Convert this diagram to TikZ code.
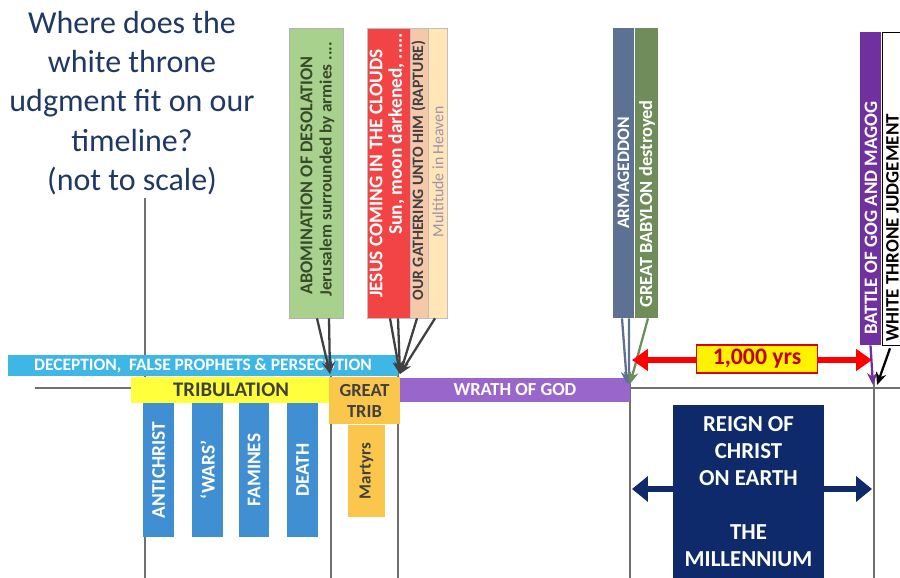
\documentclass[tikz,border=0pt]{standalone}
\usepackage{fontspec}
\setmainfont{Carlito}
\usetikzlibrary{arrows.meta,positioning,calc}
\definecolor{tlnavy}{RGB}{31,56,100}
\definecolor{tlgris}{RGB}{64,64,64}
\definecolor{tlline}{RGB}{112,112,112}
\definecolor{coldecep}{RGB}{62,182,230}
\definecolor{coltrib}{RGB}{255,255,60}
\definecolor{colgold}{RGB}{250,198,76}
\definecolor{colwrath}{RGB}{153,102,204}
\definecolor{colseal}{RGB}{63,143,210}
\definecolor{colabom}{RGB}{169,209,142}
\definecolor{colabomtxt}{RGB}{56,74,40}
\definecolor{coljesus}{RGB}{242,68,68}
\definecolor{colrapt}{RGB}{246,200,170}
\definecolor{colheav}{RGB}{255,230,180}
\definecolor{colheavtxt}{RGB}{160,142,180}
\definecolor{colarma}{RGB}{93,114,146}
\definecolor{colbaby}{RGB}{111,141,90}
\definecolor{colgog}{RGB}{112,48,160}
\definecolor{colreign}{RGB}{14,42,106}
\definecolor{colyrs}{RGB}{192,0,0}

\begin{document}
\begin{tikzpicture}[x=0.02cm, y=-0.02cm,
  bar/.style={rectangle, inner sep=0pt, text centered, font=\fontsize{10.5}{12}\selectfont\bfseries},
  box/.style={rectangle, inner sep=0pt},
  vt/.style={rotate=90, inner sep=0pt, font=\fontsize{11}{12}\selectfont\bfseries},
  axis/.style={tlline, line width=1.1pt},
  tr/.style={-{Stealth[length=7pt,width=6pt]}, line width=1.3pt, tlgris},
  fat/.style={line width=3pt, colreign, -{Triangle[length=9pt,width=14pt]}}
]
  \useasboundingbox (0,0) rectangle (900,578);
  \clip (0,0) rectangle (900,578);

  % question
  \node[text=tlnavy, align=center, font=\fontsize{18.2}{22.4}\selectfont] (quest) at (132,103)
    {Where does the\\white throne\\udgment fit on our\\timeline?\\(not to scale)};

  % timeline
  \draw[axis] (35,388) -- (900,388);
  \draw[axis] (145,198) -- (145,578);
  \draw[axis] (331,376) -- (331,578);
  \draw[axis] (398,370) -- (398,578);
  \draw[axis] (630,380) -- (630,578);
  \draw[axis] (874,380) -- (874,578);

  % periods
  \node[bar, fill=coldecep, text=white, minimum width=7.8cm, minimum height=0.42cm,
    font=\fontsize{9.9}{11}\selectfont\bfseries] (decep) at (203,365.5)
    {DECEPTION,~ FALSE PROPHETS \& PERSECUTION};
  \node[bar, fill=coltrib, text=tlgris, minimum width=4cm, minimum height=0.52cm,
    font=\fontsize{11.8}{13}\selectfont\bfseries] (trib) at (231,390) {TRIBULATION};
  \node[bar, fill=colgold, text=tlgris, minimum width=1.42cm, minimum height=0.94cm,
    align=center] (gtrib) at (364.5,400.5) {GREAT\\TRIB};
  \node[bar, fill=colwrath, text=white, minimum width=4.6cm, minimum height=0.48cm] (wrath) at (515,390) {WRATH OF GOD};
  \node[box, fill=colgold, minimum width=0.74cm, minimum height=1.84cm] (martyrs) at (366.5,471) {};
  \node[vt, text=tlgris, font=\fontsize{9.7}{11}\selectfont\bfseries] (martyrsT) at (martyrs) {Martyrs};

  % seals
  \foreach \x/\name/\txt in {158.5/anti/ANTICHRIST, 207.5/wars/‘WARS’, 254/fam/FAMINES, 302.5/death/DEATH}{
    \node[box, fill=colseal, minimum width=0.62cm, minimum height=2.68cm] (\name) at (\x,470) {};
    \node[vt, text=white] (\name T) at (\name) {\txt};
  }

  % signs
  \node[box, fill=colabom, draw=gray!60, minimum width=1.08cm, minimum height=5.8cm] (abom) at (316,173) {};
  \node[vt, anchor=west, text=colabomtxt, font=\fontsize{10.3}{12}\selectfont\bfseries] (abomA) at (306.5,295) {ABOMINATION OF DESOLATION};
  \node[vt, anchor=west, text=colabomtxt, font=\fontsize{9.8}{12}\selectfont\bfseries] (abomB) at (327,297) {Jerusalem surrounded by armies ....};
  \node[box, fill=coljesus, draw=gray!50, minimum width=0.86cm, minimum height=5.8cm] (jesus) at (388.5,173) {};
  \node[vt, text=white] (jesusA) at (376,173.5) {JESUS COMING IN THE CLOUDS};
  \node[vt, anchor=east, text=white] (jesusB) at (396.5,33) {Sun, moon darkened, .....};
  \node[box, fill=colrapt, draw=gray!50, minimum width=0.36cm, minimum height=5.8cm] (rapt) at (419,173) {};
  \node[vt, text=tlgris, font=\fontsize{9}{10}\selectfont\bfseries] (raptT) at (418.5,170.5) {OUR GATHERING UNTO HIM (RAPTURE)};
  \node[box, fill=colheav, draw=gray!50, minimum width=0.38cm, minimum height=5.8cm] (heav) at (437.5,173) {};
  \node[vt, text=colheavtxt, font=\fontsize{9}{10}\selectfont] (heavT) at (438,171.5) {Multitude in Heaven};
  \node[box, fill=colarma, minimum width=0.42cm, minimum height=5.8cm] (arma) at (623.5,173) {};
  \node[vt, text=white, font=\fontsize{10}{12}\selectfont\bfseries] (armaT) at (623.5,173) {ARMAGEDDON};
  \node[box, fill=colbaby, minimum width=0.46cm, minimum height=5.8cm] (baby) at (646.5,173) {};
  \node[vt, anchor=west, text=white, font=\fontsize{10.5}{12}\selectfont\bfseries] (babyT) at (647,308) {GREAT BABYLON destroyed};
  \node[box, fill=colgog, minimum width=0.42cm, minimum height=6.26cm] (gog) at (870.5,188.5) {};
  \node[vt, anchor=west, text=white, font=\fontsize{10.8}{12}\selectfont\bfseries] (gogT) at (871,335) {BATTLE OF GOG AND MAGOG};
  \node[box, fill=white, draw=black, minimum width=0.56cm, minimum height=6.26cm] (throne) at (896,188.5) {};
  \node[vt, anchor=west, text=black, font=\fontsize{10.8}{12}\selectfont\bfseries] (throneT) at (892.5,342) {WHITE THRONE JUDGEMENT};

  % reign
  \node[bar, fill=colreign, text=white, minimum width=3.02cm, minimum height=3.46cm, align=center,
    font=\fontsize{13}{15.4}\selectfont\bfseries] (reign) at (748.5,491.5)
    {REIGN OF\\CHRIST\\ON EARTH\\[15.4pt]THE\\MILLENNIUM};

  \coordinate (tAbom) at (330,374);
  \coordinate (tRapt) at (400,374);
  \coordinate (tArma) at (627,384);
  \coordinate (tGog)  at (873,385);
  \coordinate (mLeft) at (632,489);
  \coordinate (mRight) at (872,489);
  \coordinate (yLeft) at (632,360);
  \coordinate (yRight) at (872,360);

  % arrows
  \draw[tr] ($(abom.south)+(1,0)$) -- (tAbom);
  \draw[tr] ($(abom.south)+(13,0)$) -- (tAbom);
  \draw[tr] ($(jesus.south)+(1.5,0)$) -- (tRapt);
  \draw[tr] ($(jesus.south)+(9.5,0)$) -- (tRapt);
  \draw[tr] ($(rapt.south)+(-2,0)$) -- (tRapt);
  \draw[tr] ($(heav.south)+(-2.5,0)$) -- (tRapt);
  \draw[tr, colarma] ($(arma.south)+(-1.5,0)$) -- (tArma);
  \draw[tr, colarma] ($(arma.south)+(5.5,0)$) -- ($(tArma)+(2,0)$);
  \draw[tr, colbaby] ($(baby.south)+(1.5,0)$) -- ($(tArma)+(3,0)$);
  \draw[tr, colgog] (gog.south) -- (tGog);
  \draw[tr, black] ($(throne.south)+(-6,3)$) -- ($(tGog)+(4,0)$);
  \draw[fat] (reign.west |- mLeft) -- (mLeft);
  \draw[fat] (reign.east |- mRight) -- (mRight);

  % thousand years
  \draw[red, line width=3pt, {Triangle[length=9pt,width=12pt]}-{Triangle[length=9pt,width=12pt]}] (yLeft) -- (yRight);
  \node[bar, fill=yellow, draw=red!85!black, line width=1pt, text=colyrs, minimum width=2.42cm, minimum height=0.56cm,
    font=\fontsize{13.5}{14}\selectfont\bfseries] (yrs) at (757,359) {1,000 yrs};
\end{tikzpicture}
\end{document}
